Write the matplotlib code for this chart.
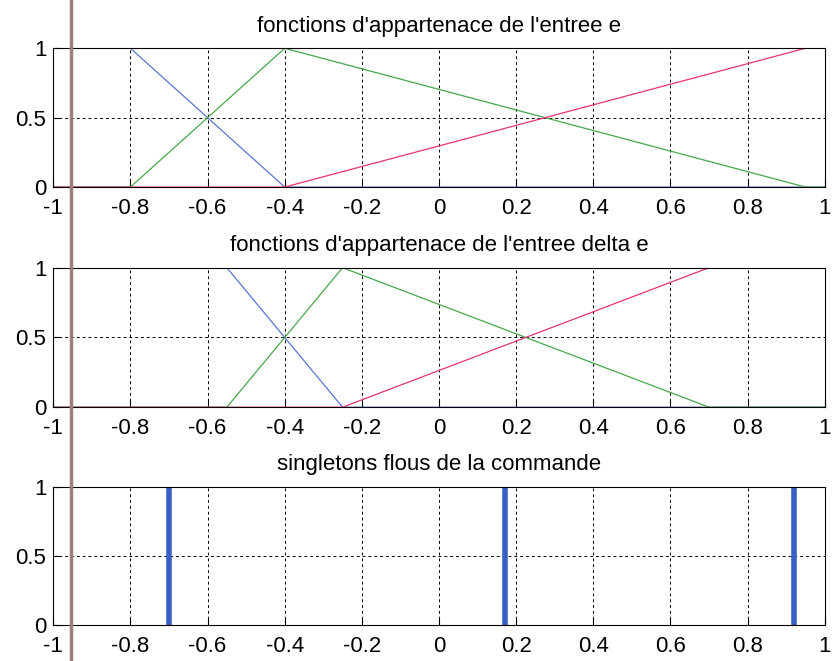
import matplotlib.pyplot as plt
from matplotlib.lines import Line2D

plt.rcParams['font.family'] = ['Liberation Sans', 'DejaVu Sans']

# fonctions d'appartenance de l'entree e (breakpoints)
e_x = [-1, -0.8, -0.4, 0.95, 1]
e_neg = [1, 1, 0, 0, 0]
e_zero = [0, 0, 1, 0, 0]
e_pos = [0, 0, 0, 1, 1]

# fonctions d'appartenance de l'entree delta e
de_x = [-1, -0.55, -0.25, 0.7, 1]
de_neg = [1, 1, 0, 0, 0]
de_zero = [0, 0, 1, 0, 0]
de_pos = [0, 0, 0, 1, 1]

# singletons de la commande
u_pos = [-0.7, 0.17, 0.92]
u_val = [1, 1, 1]

titles = ["fonctions d'appartenace de l'entree e",
          "fonctions d'appartenace de l'entree delta e",
          "singletons flous de la commande"]
xticks = [-1, -0.8, -0.6, -0.4, -0.2, 0, 0.2, 0.4, 0.6, 0.8, 1]
xlabels = ['-1', '-0.8', '-0.6', '-0.4', '-0.2', '0', '0.2', '0.4', '0.6', '0.8', '1']
yticks = [0, 0.5, 1]
ylabels = ['0', '0.5', '1']

blue = '#5a74d6'
green = '#45a84a'
red = '#e8336e'

fig = plt.figure(figsize=(8.33, 6.61), dpi=100)
boxes = [[0.064, 0.717, 0.926, 0.210],
         [0.064, 0.384, 0.926, 0.211],
         [0.064, 0.054, 0.926, 0.209]]
axes = [fig.add_axes(b) for b in boxes]

axes[0].plot(e_x, e_neg, color=blue, lw=0.9)
axes[0].plot(e_x, e_zero, color=green, lw=0.9)
axes[0].plot(e_x, e_pos, color=red, lw=0.9)

axes[1].plot(de_x, de_neg, color=blue, lw=0.9)
axes[1].plot(de_x, de_zero, color=green, lw=0.9)
axes[1].plot(de_x, de_pos, color=red, lw=0.9)

axes[2].vlines(u_pos, 0, u_val, color='#3a5fc4', lw=4)

for ax, t in zip(axes, titles):
    ax.set_xlim(-1, 1)
    ax.set_ylim(0, 1)
    ax.set_xticks(xticks)
    ax.set_xticklabels(xlabels)
    ax.set_yticks(yticks)
    ax.set_yticklabels(ylabels)
    ax.tick_params(direction='in', labelsize=16, length=5)
    ax.tick_params(axis='x', pad=8)
    ax.tick_params(axis='y', pad=5)
    ax.grid(True, color='black', linestyle=(0, (3, 3)), lw=0.7)
    ax.set_axisbelow(True)
    for s in ax.spines.values():
        s.set_linewidth(0.8)
    ax.set_title(t, fontsize=16, pad=12)

# trait vertical de la numerisation
fig.add_artist(Line2D([71 / 833, 71 / 833], [0, 1], color='#9a8078', lw=2.5,
                      transform=fig.transFigure))

fig.savefig('out.png', dpi=100)
